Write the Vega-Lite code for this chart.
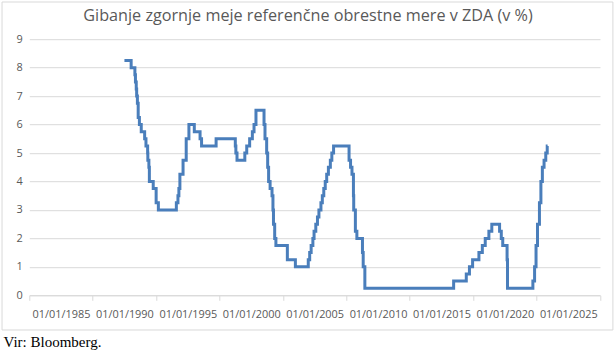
{
  "$schema": "https://vega.github.io/schema/vega-lite/v6.json",
  "width": 570.7,
  "height": 256.1,
  "autosize": "none",
  "padding": {"left": 29.3, "top": 39.2, "right": 16, "bottom": 56.7},
  "background": "white",
  "config": {
    "view": {"stroke": null}
  },
  "datasets": {
    "rate": [
      {"date": "1990-01-01", "rate": 8.25},
      {"date": "1990-07-13", "rate": 8.0},
      {"date": "1990-10-29", "rate": 7.75},
      {"date": "1990-11-14", "rate": 7.5},
      {"date": "1990-12-07", "rate": 7.25},
      {"date": "1990-12-19", "rate": 7.0},
      {"date": "1991-01-09", "rate": 6.75},
      {"date": "1991-02-01", "rate": 6.25},
      {"date": "1991-03-08", "rate": 6.0},
      {"date": "1991-04-30", "rate": 5.75},
      {"date": "1991-08-06", "rate": 5.5},
      {"date": "1991-09-13", "rate": 5.25},
      {"date": "1991-10-31", "rate": 5.0},
      {"date": "1991-11-06", "rate": 4.75},
      {"date": "1991-12-06", "rate": 4.5},
      {"date": "1991-12-20", "rate": 4.0},
      {"date": "1992-04-09", "rate": 3.75},
      {"date": "1992-07-02", "rate": 3.25},
      {"date": "1992-09-04", "rate": 3.0},
      {"date": "1994-02-04", "rate": 3.25},
      {"date": "1994-03-22", "rate": 3.5},
      {"date": "1994-04-18", "rate": 3.75},
      {"date": "1994-05-17", "rate": 4.25},
      {"date": "1994-08-16", "rate": 4.75},
      {"date": "1994-11-15", "rate": 5.5},
      {"date": "1995-02-01", "rate": 6.0},
      {"date": "1995-07-06", "rate": 5.75},
      {"date": "1995-12-19", "rate": 5.5},
      {"date": "1996-01-31", "rate": 5.25},
      {"date": "1997-03-25", "rate": 5.5},
      {"date": "1998-09-29", "rate": 5.25},
      {"date": "1998-10-15", "rate": 5.0},
      {"date": "1998-11-17", "rate": 4.75},
      {"date": "1999-06-30", "rate": 5.0},
      {"date": "1999-08-24", "rate": 5.25},
      {"date": "1999-11-16", "rate": 5.5},
      {"date": "2000-02-02", "rate": 5.75},
      {"date": "2000-03-21", "rate": 6.0},
      {"date": "2000-05-16", "rate": 6.5},
      {"date": "2001-01-03", "rate": 6.0},
      {"date": "2001-01-31", "rate": 5.5},
      {"date": "2001-03-20", "rate": 5.0},
      {"date": "2001-04-18", "rate": 4.5},
      {"date": "2001-05-15", "rate": 4.0},
      {"date": "2001-06-27", "rate": 3.75},
      {"date": "2001-08-21", "rate": 3.5},
      {"date": "2001-09-17", "rate": 3.0},
      {"date": "2001-10-02", "rate": 2.5},
      {"date": "2001-11-06", "rate": 2.0},
      {"date": "2001-12-11", "rate": 1.75},
      {"date": "2002-11-06", "rate": 1.25},
      {"date": "2003-06-25", "rate": 1.0},
      {"date": "2004-06-30", "rate": 1.25},
      {"date": "2004-08-10", "rate": 1.5},
      {"date": "2004-09-21", "rate": 1.75},
      {"date": "2004-11-10", "rate": 2.0},
      {"date": "2004-12-14", "rate": 2.25},
      {"date": "2005-02-02", "rate": 2.5},
      {"date": "2005-03-22", "rate": 2.75},
      {"date": "2005-05-03", "rate": 3.0},
      {"date": "2005-06-30", "rate": 3.25},
      {"date": "2005-08-09", "rate": 3.5},
      {"date": "2005-09-20", "rate": 3.75},
      {"date": "2005-11-01", "rate": 4.0},
      {"date": "2005-12-13", "rate": 4.25},
      {"date": "2006-01-31", "rate": 4.5},
      {"date": "2006-03-28", "rate": 4.75},
      {"date": "2006-05-10", "rate": 5.0},
      {"date": "2006-06-29", "rate": 5.25},
      {"date": "2007-09-18", "rate": 4.75},
      {"date": "2007-10-31", "rate": 4.5},
      {"date": "2007-12-11", "rate": 4.25},
      {"date": "2008-01-22", "rate": 3.5},
      {"date": "2008-01-30", "rate": 3.0},
      {"date": "2008-03-18", "rate": 2.25},
      {"date": "2008-04-30", "rate": 2.0},
      {"date": "2008-10-08", "rate": 1.5},
      {"date": "2008-10-29", "rate": 1.0},
      {"date": "2008-12-16", "rate": 0.25},
      {"date": "2015-12-17", "rate": 0.5},
      {"date": "2016-12-15", "rate": 0.75},
      {"date": "2017-03-16", "rate": 1.0},
      {"date": "2017-06-15", "rate": 1.25},
      {"date": "2017-12-14", "rate": 1.5},
      {"date": "2018-03-22", "rate": 1.75},
      {"date": "2018-06-14", "rate": 2.0},
      {"date": "2018-09-27", "rate": 2.25},
      {"date": "2018-12-20", "rate": 2.5},
      {"date": "2019-08-01", "rate": 2.25},
      {"date": "2019-09-19", "rate": 2.0},
      {"date": "2019-10-31", "rate": 1.75},
      {"date": "2020-03-04", "rate": 1.25},
      {"date": "2020-03-16", "rate": 0.25},
      {"date": "2022-03-17", "rate": 0.5},
      {"date": "2022-05-05", "rate": 1.0},
      {"date": "2022-06-16", "rate": 1.75},
      {"date": "2022-07-28", "rate": 2.5},
      {"date": "2022-09-22", "rate": 3.25},
      {"date": "2022-11-03", "rate": 4.0},
      {"date": "2022-12-15", "rate": 4.5},
      {"date": "2023-02-02", "rate": 4.75},
      {"date": "2023-03-23", "rate": 5.0},
      {"date": "2023-05-04", "rate": 5.25},
      {"date": "2023-05-15", "rate": 5.25}
    ]
  },
  "layer": [
    {
      "data": {"name": "rate"},
      "mark": {"type": "line", "interpolate": "step-after", "stroke": "#4a7ebb", "strokeWidth": 3},
      "encoding": {
        "x": {
          "field": "date",
          "type": "temporal",
          "scale": {"domain": [{"year": 1982, "month": 7, "date": 2}, {"year": 2027, "month": 7, "date": 2}]},
          "axis": {
            "orient": "bottom",
            "values": [
              {"year": 1982, "month": 7, "date": 2},
              {"year": 1987, "month": 7, "date": 2},
              {"year": 1992, "month": 7, "date": 2},
              {"year": 1997, "month": 7, "date": 2},
              {"year": 2002, "month": 7, "date": 2},
              {"year": 2007, "month": 7, "date": 2},
              {"year": 2012, "month": 7, "date": 2},
              {"year": 2017, "month": 7, "date": 2},
              {"year": 2022, "month": 7, "date": 2},
              {"year": 2027, "month": 7, "date": 2}
            ],
            "tickCount": 20,
            "labelExpr": "year(datum.value) > 2025 ? '' : '01/01/' + (year(datum.value) + 3)",
            "labelOffset": 31.7,
            "labelFlush": false,
            "labelOverlap": false,
            "labelBound": false,
            "labelFont": "Open Sans",
            "labelFontSize": 10.9,
            "labelColor": "#595959",
            "labelPadding": 8,
            "ticks": true,
            "tickSize": 5,
            "tickColor": "#d9d9d9",
            "tickWidth": 1,
            "domain": true,
            "domainColor": "#d9d9d9",
            "domainWidth": 1,
            "grid": false,
            "title": "Vir: Bloomberg.",
            "titleFont": "Liberation Serif",
            "titleFontSize": 15,
            "titleFontWeight": "normal",
            "titleColor": "#000000",
            "titleAlign": "left",
            "titleBaseline": "alphabetic",
            "titleAnchor": "start",
            "titleX": -26.3,
            "titleY": 50.7
          }
        },
        "y": {
          "field": "rate",
          "type": "quantitative",
          "scale": {"domain": [0, 9], "nice": false, "zero": false},
          "axis": {
            "orient": "left",
            "values": [0, 1, 2, 3, 4, 5, 6, 7, 8, 9],
            "tickCount": 20,
            "format": "d",
            "labelOverlap": false,
            "ticks": false,
            "domain": false,
            "grid": true,
            "gridColor": "#d9d9d9",
            "gridWidth": 1,
            "labelFont": "Open Sans",
            "labelFontSize": 10.9,
            "labelColor": "#595959",
            "labelPadding": 7,
            "title": null
          }
        }
      }
    },
    {
      "data": {"values": [{}]},
      "mark": {"type": "rect", "filled": false, "stroke": "#d9d9d9", "strokeWidth": 1, "clip": false},
      "encoding": {
        "x": {"datum": {"year": 1980, "month": 5, "date": 8}, "type": "temporal"},
        "x2": {"datum": {"year": 2028, "month": 7, "date": 8}},
        "y": {
          "datum": 10.307,
          "type": "quantitative",
          "axis": {
            "orient": "left",
            "values": [0, 1, 2, 3, 4, 5, 6, 7, 8, 9],
            "tickCount": 20,
            "format": "d",
            "labelOverlap": false,
            "ticks": false,
            "domain": false,
            "grid": true,
            "gridColor": "#d9d9d9",
            "gridWidth": 1,
            "labelFont": "Open Sans",
            "labelFontSize": 10.9,
            "labelColor": "#595959",
            "labelPadding": 7,
            "title": null
          }
        },
        "y2": {"datum": -1.219}
      }
    },
    {
      "data": {"values": [{}]},
      "mark": {
        "type": "text",
        "text": "Gibanje zgornje meje referenčne obrestne mere v ZDA (v %)",
        "font": "Open Sans",
        "fontSize": 16.2,
        "fontWeight": "normal",
        "color": "#595959",
        "align": "center",
        "baseline": "alphabetic",
        "clip": false
      },
      "encoding": {
        "x": {"datum": {"year": 2004, "month": 6, "date": 23}, "type": "temporal"},
        "y": {
          "datum": 9.65,
          "type": "quantitative",
          "axis": {
            "orient": "left",
            "values": [0, 1, 2, 3, 4, 5, 6, 7, 8, 9],
            "tickCount": 20,
            "format": "d",
            "labelOverlap": false,
            "ticks": false,
            "domain": false,
            "grid": true,
            "gridColor": "#d9d9d9",
            "gridWidth": 1,
            "labelFont": "Open Sans",
            "labelFontSize": 10.9,
            "labelColor": "#595959",
            "labelPadding": 7,
            "title": null
          }
        }
      }
    }
  ]
}
